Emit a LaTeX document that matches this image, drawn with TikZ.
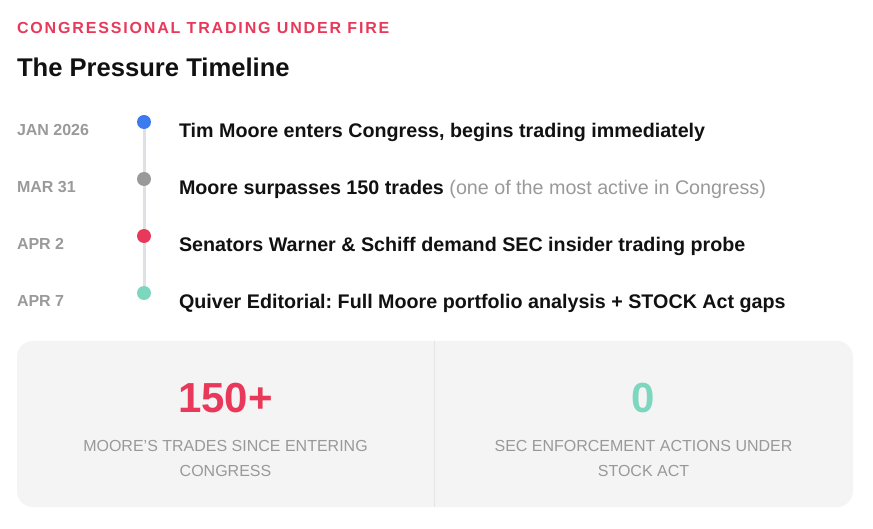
\documentclass[tikz,border=0pt]{standalone}
\usepackage{fontspec}
\setmainfont{Liberation Sans}
\newfontfamily\trackedfont[LetterSpace=11.5]{Liberation Sans}
\definecolor{accred}{HTML}{E8395A}
\definecolor{accblue}{HTML}{3B7BEF}
\definecolor{accgray}{HTML}{999999}
\definecolor{accteal}{HTML}{7DD6BE}
\definecolor{datecol}{HTML}{9A9A9A}
\definecolor{inkcol}{HTML}{111111}
\definecolor{linecol}{HTML}{E0E0E4}
\definecolor{panelcol}{HTML}{F4F4F4}
\definecolor{dividercol}{HTML}{E4E4E4}
\frenchspacing
\begin{document}
\begin{tikzpicture}[x=1pt,y=-1pt,
  txt/.style={inner sep=0pt,outer sep=0pt,anchor=base west},
  datelbl/.style={txt,text=datecol,font=\fontsize{16}{18}\selectfont\bfseries},
  eventlbl/.style={txt,text=inkcol,font=\fontsize{19.7}{22}\selectfont\bfseries},
  dot/.style={circle,inner sep=0pt,minimum size=14pt},
  bignum/.style={inner sep=0pt,anchor=base,font=\fontsize{42}{48}\selectfont\bfseries},
  statlbl/.style={inner sep=0pt,anchor=base,text=accgray,font=\fontsize{16}{25}\selectfont}
]
\useasboundingbox (0,0) rectangle (873,529);
\fill[white] (0,0) rectangle (873,529);

\node[txt,text=accred,font=\fontsize{16}{18}\trackedfont\bfseries] (kicker) at (17,34) {CONGRESSIONAL TRADING UNDER FIRE};
\node[txt,text=inkcol,font=\fontsize{25.6}{30}\selectfont\bfseries] (title) at (17,77) {The Pressure Timeline};

% timeline
\coordinate (d1) at (144,122);
\coordinate (d2) at (144,179);
\coordinate (d3) at (144,236);
\coordinate (d4) at (144,293);
\draw[linecol,line width=3pt] (d1) -- (d4);
\node[dot,fill=accblue] (dot1) at (d1) {};
\node[dot,fill=accgray] (dot2) at (d2) {};
\node[dot,fill=accred] (dot3) at (d3) {};
\node[dot,fill=accteal] (dot4) at (d4) {};

\node[datelbl] (date1) at (17,136) {JAN 2026};
\node[datelbl] (date2) at (17,193) {MAR 31};
\node[datelbl] (date3) at (17,250) {APR 2};
\node[datelbl] (date4) at (17,307) {APR 7};

\node[eventlbl] (ev1) at (179,138) {Tim Moore enters Congress, begins trading immediately};
\node[eventlbl] (ev2) at (179,195) {Moore surpasses 150 trades {\mdseries\color{accgray}(one of the most active in Congress)}};
\node[eventlbl] (ev3) at (179,252) {Senators Warner \& Schiff demand SEC insider trading probe};
\node[eventlbl] (ev4) at (179,309) {Quiver Editorial: Full Moore portfolio analysis + STOCK Act gaps};

% stats panel
\fill[panelcol,rounded corners=16pt] (17,341) rectangle (853,507);
\draw[dividercol,line width=1pt] (434.5,341) -- (434.5,507);
\node[bignum,text=accred] (num1) at (225.5,412) {150+};
\node[bignum,text=accteal] (num2) at (643.5,412) {0};
\node[statlbl] (lbl1a) at (225.5,451) {MOORE’S TRADES SINCE ENTERING};
\node[statlbl] (lbl1b) at (225.5,476) {CONGRESS};
\node[statlbl] (lbl2a) at (643.5,451) {SEC ENFORCEMENT ACTIONS UNDER};
\node[statlbl] (lbl2b) at (643.5,476) {STOCK ACT};
\end{tikzpicture}
\end{document}
